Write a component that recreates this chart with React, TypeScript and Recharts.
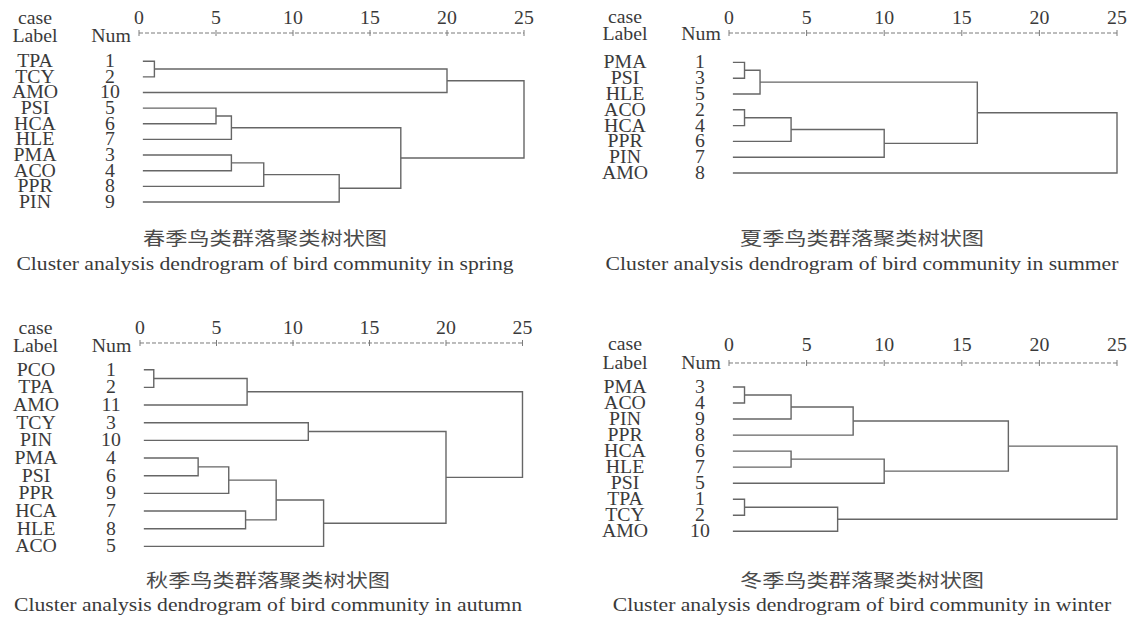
import React from "react";
import { ScatterChart, Scatter, XAxis, YAxis } from "recharts";

const TEXT = "#3a3a3a";
const LINE = "#666666";
const DASH = "#7a7a7a";
const SERIF = "'Liberation Serif', 'Times New Roman', serif";
const CJK = "'Noto Sans CJK SC', sans-serif";

type Merge = [number, number, number];

// rescaled distance axis
const distTicks = [0, 5, 10, 15, 20, 25];

// merges: [node a, node b, rescaled distance]; leaves are 0..n-1 in display order,
// each merge gets the next node id (n, n+1, ...)
const springLabels = ["TPA", "TCY", "AMO", "PSI", "HCA", "HLE", "PMA", "ACO", "PPR", "PIN"];
const springNums = ["1", "2", "10", "5", "6", "7", "3", "4", "8", "9"];
const springMerges: Merge[] = [
  [0, 1, 1], [3, 4, 5], [11, 5, 6], [6, 7, 6], [13, 8, 8.1],
  [14, 9, 13], [12, 15, 17], [10, 2, 20], [17, 16, 25],
];

const summerLabels = ["PMA", "PSI", "HLE", "ACO", "HCA", "PPR", "PIN", "AMO"];
const summerNums = ["1", "3", "5", "2", "4", "6", "7", "8"];
const summerMerges: Merge[] = [
  [0, 1, 1], [8, 2, 2], [3, 4, 1], [10, 5, 4], [11, 6, 10], [9, 12, 16], [13, 7, 25],
];

const autumnLabels = ["PCO", "TPA", "AMO", "TCY", "PIN", "PMA", "PSI", "PPR", "HCA", "HLE", "ACO"];
const autumnNums = ["1", "2", "11", "3", "10", "4", "6", "9", "7", "8", "5"];
const autumnMerges: Merge[] = [
  [0, 1, 0.9], [11, 2, 7], [3, 4, 11], [5, 6, 3.8], [14, 7, 5.8],
  [8, 9, 6.9], [15, 16, 8.9], [17, 10, 12], [13, 18, 20], [12, 19, 25],
];

const winterLabels = ["PMA", "ACO", "PIN", "PPR", "HCA", "HLE", "PSI", "TPA", "TCY", "AMO"];
const winterNums = ["3", "4", "9", "8", "6", "7", "5", "1", "2", "10"];
const winterMerges: Merge[] = [
  [0, 1, 1], [10, 2, 4], [11, 3, 8], [4, 5, 4], [13, 6, 10],
  [12, 14, 18], [7, 8, 1], [16, 9, 7], [15, 17, 25],
];

const LEAF_START = 0.25;

// turn the merge list into elbow polylines (a -> out to h -> down -> back to b)
function linkPaths(n: number, merges: Merge[]) {
  const nodes = Array.from({ length: n }, (_, i) => ({ h: LEAF_START, y: i }));
  return merges.map(([a, b, h]) => {
    const p = nodes[a];
    const q = nodes[b];
    nodes.push({ h, y: (p.y + q.y) / 2 });
    return [
      { x: p.h, y: p.y },
      { x: h, y: p.y },
      { x: h, y: q.y },
      { x: q.h, y: q.y },
    ];
  });
}

type Geo = {
  left: number; right: number; axis: number; first: number; last: number;
  gap: number; caseY: number; labelY: number;
  cx: number; cnY: number; enY: number;
};

const PAD_L = 130;
const PAD_T = 40;

const Dendrogram = ({ labels, nums, merges, geo }: {
  labels: string[]; nums: string[]; merges: Merge[]; geo: Geo;
}) => {
  const links = linkPaths(labels.length, merges);
  const width = PAD_L + (geo.right - geo.left) + 20;
  const height = PAD_T + (geo.last - geo.axis) + 15;

  const leafTick = (props: any) => {
    const { y, payload } = props;
    const i = payload.value;
    return (
      <g fill={TEXT} fontFamily={SERIF} fontSize={18}>
        <text transform={`translate(${PAD_L - 104},${y + 6}) scale(1.1,1)`} textAnchor="middle">
          {labels[i]}
        </text>
        <text transform={`translate(${PAD_L - 29},${y + 6}) scale(1.1,1)`} textAnchor="middle">
          {nums[i]}
        </text>
      </g>
    );
  };

  const distTick = (props: any) => {
    const { x, payload } = props;
    return (
      <g>
        <line x1={x} x2={x} y1={PAD_T - 3} y2={PAD_T + 3} stroke={DASH} />
        <text
          transform={`translate(${x},${PAD_T - geo.gap + 6}) scale(1.1,1)`}
          textAnchor="middle"
          fill={TEXT}
          fontFamily={SERIF}
          fontSize={18}
        >
          {payload.value}
        </text>
      </g>
    );
  };

  return (
    <div style={{ position: "absolute", left: geo.left - PAD_L, top: geo.axis - PAD_T }}>
      <ScatterChart width={width} height={height} margin={{ top: 15, right: 20, bottom: 15, left: 20 }}>
        <XAxis
          type="number"
          dataKey="x"
          orientation="top"
          domain={[0, 25]}
          ticks={distTicks}
          interval={0}
          height={25}
          axisLine={{ stroke: DASH, strokeDasharray: "4 2" }}
          tickLine={false}
          tick={distTick}
        />
        <YAxis
          type="number"
          dataKey="y"
          domain={[0, labels.length - 1]}
          reversed
          ticks={labels.map((_, i) => i)}
          interval={0}
          width={110}
          axisLine={false}
          tickLine={false}
          tick={leafTick}
          padding={{ top: geo.first - geo.axis, bottom: 0 }}
        />
        {links.map((pts, k) => (
          <Scatter
            key={k}
            data={pts}
            line={{ stroke: LINE, strokeWidth: 1.4 }}
            shape={() => <g />}
            isAnimationActive={false}
          />
        ))}
      </ScatterChart>
    </div>
  );
};

const panels = [
  {
    labels: springLabels, nums: springNums, merges: springMerges,
    cn: "春季鸟类群落聚类树状图", en: "Cluster analysis dendrogram of bird community in spring",
    geo: { left: 139, right: 524, axis: 33.3, first: 61.5, last: 202.3, gap: 15, caseY: 20, labelY: 36, cx: 265, cnY: 238, enY: 265 },
  },
  {
    labels: summerLabels, nums: summerNums, merges: summerMerges,
    cn: "夏季鸟类群落聚类树状图", en: "Cluster analysis dendrogram of bird community in summer",
    geo: { left: 729, right: 1117, axis: 33.3, first: 62.7, last: 173.3, gap: 15, caseY: 19, labelY: 34, cx: 862, cnY: 238, enY: 265 },
  },
  {
    labels: autumnLabels, nums: autumnNums, merges: autumnMerges,
    cn: "秋季鸟类群落聚类树状图", en: "Cluster analysis dendrogram of bird community in autumn",
    geo: { left: 139.5, right: 522, axis: 343.3, first: 370, last: 546.7, gap: 15, caseY: 330, labelY: 346, cx: 268, cnY: 580, enY: 606 },
  },
  {
    labels: winterLabels, nums: winterNums, merges: winterMerges,
    cn: "冬季鸟类群落聚类树状图", en: "Cluster analysis dendrogram of bird community in winter",
    geo: { left: 729, right: 1117, axis: 362.7, first: 386.7, last: 531, gap: 17.7, caseY: 346, labelY: 363.3, cx: 862, cnY: 580, enY: 606 },
  },
];

const App: React.FC = () => (
  <div style={{ position: "absolute", left: 0, top: 0, width: 1128, height: 619, background: "#fff", overflow: "hidden" }}>
    {panels.map((p, i) => (
      <Dendrogram key={i} labels={p.labels} nums={p.nums} merges={p.merges} geo={p.geo} />
    ))}
    <svg width={1128} height={619} style={{ position: "absolute", left: 0, top: 0, pointerEvents: "none" }}>
      {panels.map((p, i) => {
        const g = p.geo;
        return (
          <g key={i} fill={TEXT}>
            <g fontFamily={SERIF} fontSize={18} textAnchor="middle">
              <text transform={`translate(${g.left - 104},${g.caseY + 4}) scale(1.1,1)`}>case</text>
              <text transform={`translate(${g.left - 104},${g.labelY + 6}) scale(1.1,1)`}>Label</text>
              <text transform={`translate(${g.left - 28},${g.labelY + 6}) scale(1.1,1)`}>Num</text>
            </g>
            <text
              transform={`translate(${g.cx},${g.cnY + 7}) scale(1.2,1)`}
              textAnchor="middle"
              fontFamily={CJK}
              fontSize={18.5}
              fill="#4a4a4a"
            >
              {p.cn}
            </text>
            <text
              transform={`translate(${g.cx},${g.enY + 5}) scale(1.14,1)`}
              textAnchor="middle"
              fontFamily={SERIF}
              fontSize={19}
            >
              {p.en}
            </text>
          </g>
        );
      })}
    </svg>
  </div>
);

export default App;
